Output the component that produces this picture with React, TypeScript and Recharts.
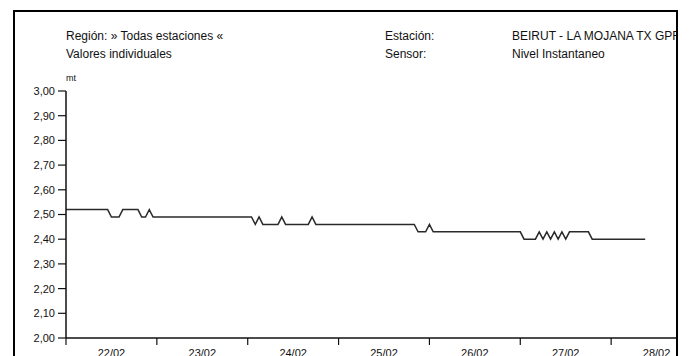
import React from 'react';
import { LineChart, Line, XAxis, YAxis } from 'recharts';

// hours since 22/02 00:00 (hourly samples, only the change points)
const hours = [0, 11, 12, 14, 15, 19, 20, 21, 22, 23, 49, 50, 51, 52, 56, 57, 58, 64, 65, 66, 92, 93, 95, 96, 97, 120, 121, 124, 125, 126, 127, 128, 129, 130, 131, 132, 133, 138, 139, 153];
const nivel = [2.52, 2.52, 2.49, 2.49, 2.52, 2.52, 2.49, 2.49, 2.52, 2.49, 2.49, 2.46, 2.49, 2.46, 2.46, 2.49, 2.46, 2.46, 2.49, 2.46, 2.46, 2.43, 2.43, 2.46, 2.43, 2.43, 2.40, 2.40, 2.43, 2.40, 2.43, 2.40, 2.43, 2.40, 2.43, 2.40, 2.43, 2.43, 2.40, 2.40];

const dayTicks = [0, 24, 48, 72, 96, 120, 144];
const dayLabels = ['22/02', '23/02', '24/02', '25/02', '26/02', '27/02', '28/02'];
const yTicks = [2.0, 2.1, 2.2, 2.3, 2.4, 2.5, 2.6, 2.7, 2.8, 2.9, 3.0];

const data = hours.map((h, i) => ({ h, v: nivel[i] }));

const FONT = '"Liberation Sans", Arial, sans-serif';
const Y_W = 51;
const PLOT_W = 636;
const TOP = 79;
const PLOT_H = 247;
const halfDay = PLOT_W / 7 / 2;

function DayTick(props: any) {
    const { x, y, payload } = props;
    const idx = dayTicks.indexOf(payload.value);
    return (
        <text x={x + halfDay} y={y} dy="0.71em" textAnchor="middle" fontSize={11} fill="#111" fontFamily={FONT}>
            {dayLabels[idx]}
        </text>
    );
}

const txt: React.CSSProperties = { position: 'absolute', fontSize: 12, color: '#111', whiteSpace: 'nowrap', lineHeight: '14px' };

export default function App() {
    return (
        <div style={{ position: 'fixed', left: 0, top: 0, width: 690, height: 356, overflow: 'hidden', background: '#fff', fontFamily: FONT }}>
            <div style={{ position: 'absolute', left: 13, top: 10, width: 665, height: 420, border: '2px solid #000', boxSizing: 'border-box', overflow: 'hidden' }}>
                {/* header */}
                <div style={{ ...txt, left: 51, top: 17 }}>Región: » Todas estaciones «</div>
                <div style={{ ...txt, left: 51, top: 35 }}>Valores individuales</div>
                <div style={{ ...txt, left: 370, top: 17 }}>Estación:</div>
                <div style={{ ...txt, left: 370, top: 35 }}>Sensor:</div>
                <div style={{ ...txt, left: 497, top: 17 }}>BEIRUT - LA MOJANA TX GPRS</div>
                <div style={{ ...txt, left: 497, top: 35 }}>Nivel Instantaneo</div>
                <div style={{ ...txt, left: 51, top: 59, fontSize: 9 }}>mt</div>

                <div style={{ position: 'absolute', left: 0, top: 0 }}>
                    <LineChart
                        width={Y_W + PLOT_W}
                        height={TOP + PLOT_H + 40}
                        data={data}
                        margin={{ top: TOP, right: 0, left: 0, bottom: 0 }}
                    >
                        <XAxis
                            dataKey="h"
                            type="number"
                            domain={[0, 168]}
                            ticks={dayTicks}
                            interval={0}
                            height={40}
                            tickSize={7}
                            tickMargin={4}
                            tick={<DayTick />}
                            axisLine={{ stroke: '#111', strokeWidth: 1.5 }}
                            tickLine={{ stroke: '#111', strokeWidth: 1.2 }}
                        />
                        <YAxis
                            type="number"
                            domain={[2, 3]}
                            ticks={yTicks}
                            interval={0}
                            width={Y_W}
                            tickSize={8}
                            tickMargin={3}
                            tickFormatter={(v: number) => v.toFixed(2).replace('.', ',')}
                            tick={{ fontSize: 11, fill: '#111', fontFamily: FONT }}
                            axisLine={{ stroke: '#111', strokeWidth: 1.5 }}
                            tickLine={{ stroke: '#111', strokeWidth: 1.2 }}
                        />
                        <Line
                            type="linear"
                            dataKey="v"
                            stroke="#2a2a2a"
                            strokeWidth={1.5}
                            dot={false}
                            isAnimationActive={false}
                        />
                    </LineChart>
                </div>
            </div>
        </div>
    );
}
